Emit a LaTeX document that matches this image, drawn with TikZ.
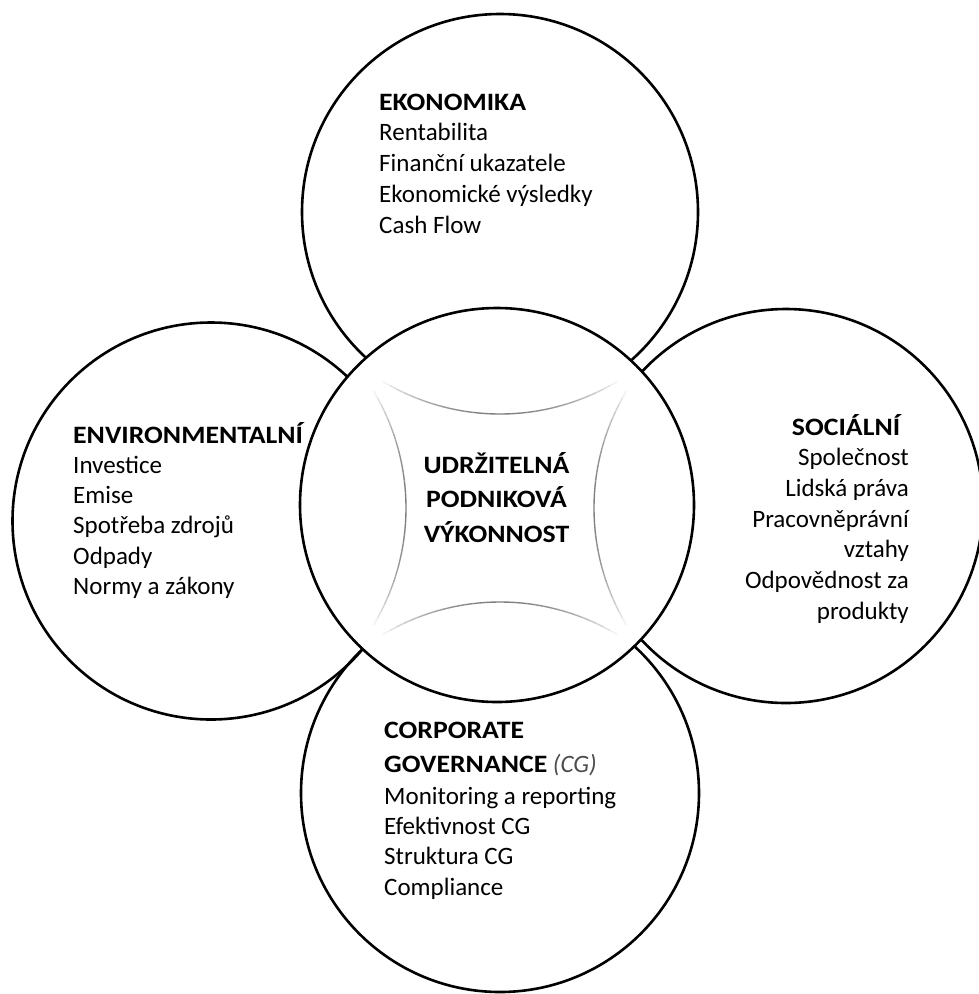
\documentclass[tikz,border=0pt]{standalone}
\usepackage{fontspec}
\setmainfont{Carlito}[BoldFeatures={FakeStretch=1.11}]
\begin{document}
\begin{tikzpicture}[x=1pt,y=-1pt,
    bubble/.style={draw, circle, line width=2.6pt, inner sep=0pt, minimum size=#1pt},
    txt/.style={font=\fontsize{25}{30}\selectfont, inner sep=0pt, text=black}]
    \useasboundingbox (0,0) rectangle (978,994);
    % the four outer circles
    \node[bubble=396] (eko) at (500,212) {};
    \node[bubble=397] (env) at (211,521) {};
    \node[bubble=394] (soc) at (786,506) {};
    \node[bubble=398] (cg) at (500,793) {};
    % middle circle on top
    \node[bubble=394, fill=white] (udrz) at (497,505) {};
    % grey arcs inside
    \coordinate (mid) at (500,508);
    \foreach \a in {0,90,180,270}
        \foreach \t in {-31,-29,...,29}{
            \pgfmathsetmacro\s{\a+180+\t}
            \pgfmathsetmacro\op{1-((\t+1)/32)^2}
            \draw[black!50, line width=1.4pt, opacity=\op] (mid) ++(\a:321) ++(\s:227) arc[start angle=\s, delta angle=2, radius=227];
        }
    % texts
    \foreach \line [count=\i] in {\textbf{EKONOMIKA}, Rentabilita, Finanční ukazatele, Ekonomické výsledky, Cash Flow}
        \node[txt, anchor=base west] (eko\i) at (379,{110+30.75*(\i-1)}) {\line};
    \foreach \line [count=\i] in {\textbf{ENVIRONMENTALNÍ}, Investice, Emise, Spotřeba zdrojů, Odpady, Normy a zákony}
        \node[txt, anchor=base west] (env\i) at (73,{443+30.3*(\i-1)}) {\line};
    \node[txt, anchor=base] (soc0) at (847,435) {\textbf{SOCIÁLNÍ}};
    \foreach \line [count=\i] in {Společnost, Lidská práva, Pracovněprávní, vztahy, Odpovědnost za, produkty}
        \node[txt, anchor=base east] (soc\i) at (909,{435+30.7*\i}) {\line};
    \foreach \yy/\line [count=\i] in {738/{\textbf{CORPORATE}}, 772/{\textbf{GOVERNANCE} {\color{black!70}\textit{(CG)}}}, 804/{Monitoring a reporting}, 834/{Efektivnost CG}, 864/{Struktura CG}, 895/{Compliance}}
        \node[txt, anchor=base west] (cg\i) at (384,\yy) {\line};
    \foreach \line [count=\i] in {UDRŽITELNÁ, PODNIKOVÁ, VÝKONNOST}
        \node[txt, anchor=base] (udrz\i) at (496.5,{473+34.5*(\i-1)}) {\textbf{\line}};
\end{tikzpicture}
\end{document}
